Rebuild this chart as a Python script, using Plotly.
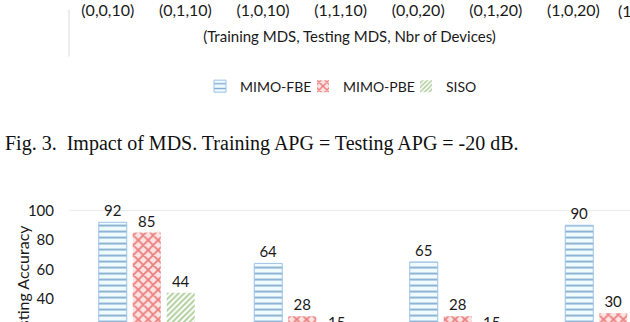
import plotly.graph_objects as go

W, H = 630, 322

# ---- data ----
top_categories = ["(0,0,10)", "(0,1,10)", "(1,0,10)", "(1,1,10)",
                  "(0,0,20)", "(0,1,20)", "(1,0,20)", "(1,1,20)"]
top_axis_title = "(Training MDS, Testing MDS, Nbr of Devices)"

series_names = ["MIMO-FBE", "MIMO-PBE", "SISO"]
bottom_categories = ["G1", "G2", "G3", "G4"]
fbe_values = [92, 64, 65, 90]
pbe_values = [85, 28, 28, 30]
siso_values = [44, 15, 15, 15]
y_ticks = [40, 60, 80, 100]
y_title = "Testing Accuracy"
caption = "Fig. 3.\u00a0 Impact of MDS. Training APG = Testing APG = -20 dB."

FONT = "Lato"
TXT = "#1a1a1a"

def px_x(p):
    return p / W

def px_y(p):
    return 1 - p / H

BARGAP = 0.344
BARGROUPGAP = 0.176
Y2_MAX = 100
Y2_MIN = Y2_MAX - (H - 207) / 1.515

fig = go.Figure()

# top (cropped) chart axis - invisible carrier trace for categories
fig.add_trace(go.Scatter(
    x=top_categories, y=[0] * len(top_categories), mode="markers",
    marker=dict(opacity=0), showlegend=False, hoverinfo="skip",
    xaxis="x", yaxis="y"))

styles = [
    dict(color="#effbff", pattern=dict(shape="-", fgcolor="#1a5a9e", bgcolor="#effbff",
                                        size=6, solidity=0.3),
         line=dict(color="#9dc3e6", width=1)),
    dict(color="#fde3e3", pattern=dict(shape="x", fgcolor="#d81818", bgcolor="#fde3e3",
                                        size=7, solidity=0.45),
         line=dict(color="#d81818", width=0)),
    dict(color="#ffffff", pattern=dict(shape="/", fgcolor="#63a040", bgcolor="#ffffff",
                                        size=4, solidity=0.5),
         line=dict(color="#70ad47", width=0)),
]
all_values = [fbe_values, pbe_values, siso_values]
for name, vals, st in zip(series_names, all_values, styles):
    fig.add_trace(go.Bar(
        x=bottom_categories, y=vals, name=name, marker=st,
        text=[str(v) for v in vals], textposition="outside",
        textfont=dict(family=FONT, size=15, color=TXT),
        cliponaxis=False, xaxis="x2", yaxis="y2"))

# labels of bars whose tops fall below the visible range
slot = (1 - BARGAP) / len(series_names)
for si, vals in enumerate(all_values):
    for ci, v in enumerate(vals):
        if v < Y2_MIN:
            fig.add_annotation(
                text=str(v), xref="x2", yref="y2 domain",
                x=ci + (si - (len(series_names) - 1) / 2) * slot,
                y=(v - Y2_MIN) / (Y2_MAX - Y2_MIN),
                yanchor="bottom", yshift=2, showarrow=False,
                font=dict(family=FONT, size=15, color=TXT))

n_vis_top = (W - 69) / 77.6
n_vis_bot = (W - 69) / 155.5

fig.update_layout(
    width=W, height=H,
    margin=dict(l=0, r=0, t=0, b=0),
    paper_bgcolor="white", plot_bgcolor="rgba(0,0,0,0)",
    font=dict(family=FONT, size=14, color=TXT),
    barmode="group", bargap=BARGAP, bargroupgap=BARGROUPGAP,
    xaxis=dict(domain=[px_x(69), 1], type="category",
               categoryorder="array", categoryarray=top_categories,
               range=[-0.5, -0.5 + n_vis_top],
               showgrid=False, zeroline=False, showline=False, ticks="",
               tickfont=dict(family=FONT, size=16, color=TXT),
               ticklabelstandoff=-12,
               title=dict(text=top_axis_title, standoff=13,
                          font=dict(family=FONT, size=15, color=TXT)),
               anchor="y", fixedrange=True),
    yaxis=dict(domain=[1 - 1 / H, 1], visible=False, range=[0, 1]),
    xaxis2=dict(domain=[px_x(69), 1], type="category",
                range=[-0.5, -0.5 + n_vis_bot],
                showgrid=False, zeroline=False, showline=False,
                showticklabels=False, ticks="", anchor="y2"),
    yaxis2=dict(domain=[0, (H - 207) / H], range=[Y2_MIN, Y2_MAX],
                tickvals=y_ticks, showgrid=False, zeroline=False, showline=False,
                tickfont=dict(family=FONT, size=15, color=TXT),
                ticklabelstandoff=14, anchor="x2"),
    legend=dict(orientation="h", x=px_x(200), xanchor="left",
                y=px_y(79), yanchor="middle",
                font=dict(family=FONT, size=14, color=TXT),
                entrywidth=58, bgcolor="rgba(0,0,0,0)"),
    showlegend=True,
)

# partially visible 8th category label of the top chart
fig.add_annotation(text=top_categories[7], xref="paper", yref="paper",
                   x=px_x(616), y=px_y(0), xanchor="left", yanchor="middle",
                   showarrow=False, font=dict(family=FONT, size=16, color=TXT))

# y-axis title of lower chart (cropped)
fig.add_annotation(text=y_title, textangle=-90, xref="paper", yref="paper",
                   x=px_x(22), y=px_y(283), xanchor="center", yanchor="middle",
                   showarrow=False, font=dict(family=FONT, size=16, color=TXT))

# caption
fig.add_annotation(text=caption, xref="paper", yref="paper",
                   x=px_x(3), y=px_y(138), xanchor="left", yanchor="middle",
                   showarrow=False,
                   font=dict(family="Liberation Serif", size=20, color="#111111"))

# chart border fragment and top gridline
fig.add_shape(type="line", xref="paper", yref="paper",
              x0=px_x(69), x1=px_x(69), y0=px_y(0), y1=px_y(48),
              line=dict(color="#d9d9d9", width=1))
fig.add_shape(type="line", xref="paper", yref="y2",
              x0=px_x(69), x1=1, y0=100, y1=100,
              line=dict(color="#d9d9d9", width=1), layer="below")

fig.write_html("out.html",
               config={"displayModeBar": False},
               post_script="document.body.style.margin='0';"
                           "document.body.style.overflow='hidden';")
